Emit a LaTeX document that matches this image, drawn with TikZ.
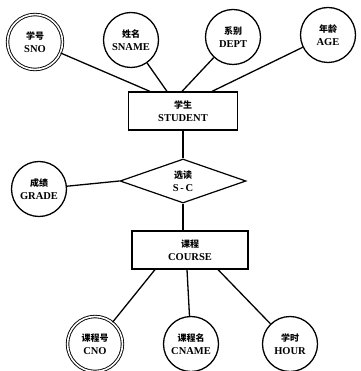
\documentclass[tikz,border=0pt]{standalone}
\usepackage{fontspec}
\setmainfont{Liberation Serif}
\newfontfamily\cjk{Noto Sans CJK SC}
\usetikzlibrary{positioning,shapes.geometric,calc}

\begin{document}
\begin{tikzpicture}[
  x=1pt, y=-1pt,
  every node/.style={font=\fontsize{10.5}{13.5}\selectfont\bfseries, align=center},
  attr/.style={circle, draw, line width=1.3pt, minimum size=55pt, inner sep=0pt},
  keyattr/.style={attr, double, double distance=1.6pt, line width=0.9pt},
  entity/.style={draw, line width=1.2pt, minimum width=109pt, minimum height=38pt, inner sep=0pt},
  relation/.style={diamond, draw, line width=1.2pt, minimum width=126pt, minimum height=44pt, aspect=2.86, inner sep=0pt},
  link/.style={line width=1.3pt}
]
\useasboundingbox (0,0) rectangle (360,371);
% Student attributes
\node[keyattr] (sno) at (35,42) {{\cjk\fontsize{9}{12}\selectfont 学号}\\SNO};
\node[attr] (sname) at (131,40) {{\cjk\fontsize{9}{12}\selectfont 姓名}\\SNAME};
\node[attr] (dept) at (233,37) {{\cjk\fontsize{9}{12}\selectfont 系别}\\DEPT};
\node[attr] (age) at (328,35) {{\cjk\fontsize{9}{12}\selectfont 年龄}\\AGE};
% Entities and relation
\node[entity] (stu) at (183,111) {{\cjk\fontsize{9}{12}\selectfont 学生}\\STUDENT};
\node[relation] (sc) at (183,181) {{\cjk\fontsize{9}{12}\selectfont 选读}\\S\,-\,C};
\node[attr] (grade) at (39,189) {{\cjk\fontsize{9}{12}\selectfont 成绩}\\GRADE};
\node[entity, minimum width=116pt] (crs) at (190,250) {{\cjk\fontsize{9}{12}\selectfont 课程}\\COURSE};
% Course attributes
\node[keyattr] (cno) at (95,344) {{\cjk\fontsize{9}{12}\selectfont 课程号}\\CNO};
\node[attr] (cname) at (191,344) {{\cjk\fontsize{9}{12}\selectfont 课程名}\\CNAME};
\node[attr] (hour) at (290,344) {{\cjk\fontsize{9}{12}\selectfont 学时}\\HOUR};
% Links
\draw[link] (sno) -- ([xshift=-33pt]stu.north);
\draw[link] (sname) -- ([xshift=-16pt]stu.north);
\draw[link] (dept) -- ([xshift=-1pt]stu.north);
\draw[link] (age) -- ([xshift=29pt]stu.north);
\draw[link] (stu) -- (sc);
\draw[link] (grade) -- (sc.west);
\draw[link] (sc.south) -- (sc.south |- crs.north);
\draw[link] ([xshift=-35pt]crs.south) -- (cno);
\draw[link] ([xshift=-3pt]crs.south) -- (cname);
\draw[link] ([xshift=28pt]crs.south) -- (hour);
\end{tikzpicture}
\end{document}
